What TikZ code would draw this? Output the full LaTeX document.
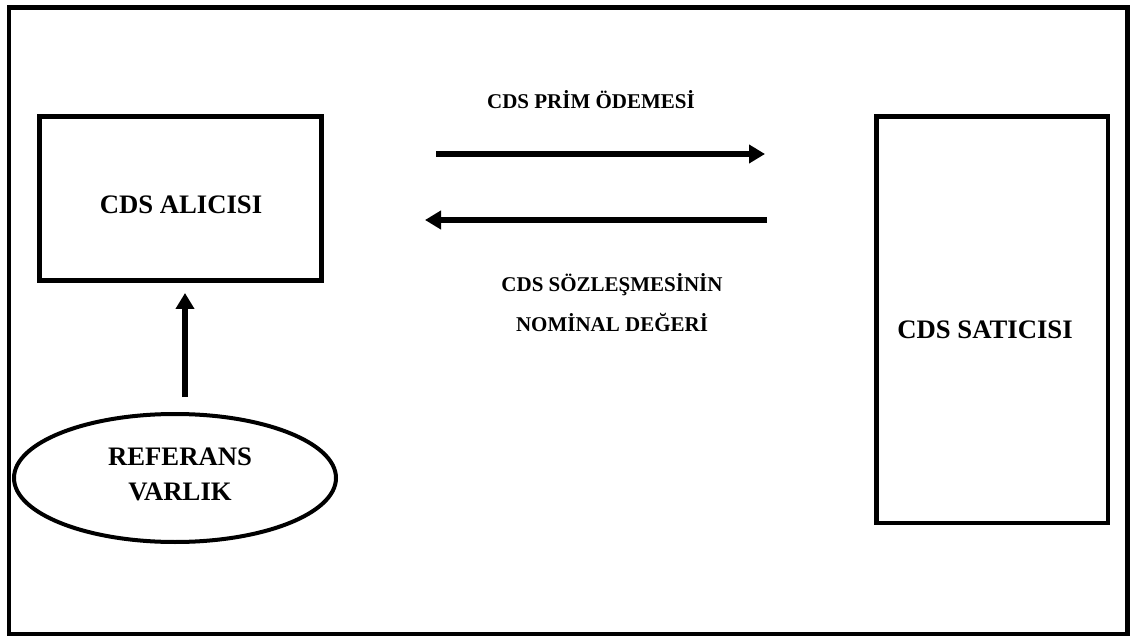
\documentclass[tikz,border=0pt]{standalone}
\usepackage{fontspec}
\setmainfont{Liberation Serif}
\usetikzlibrary{shapes.geometric,arrows.meta}
\begin{document}
\begin{tikzpicture}[x=1pt,y=-1pt,
    box/.style={draw,line width=4.5pt,inner sep=0pt},
    big/.style={font=\bfseries\fontsize{26.7}{35}\selectfont,align=center},
    small/.style={font=\bfseries\fontsize{21}{40}\selectfont,align=center},
    flow/.style={line width=5.5pt,-{Triangle[length=16pt,width=18pt]}}]
  \useasboundingbox (0,0) rectangle (1130,636);
  \draw[line width=4.5pt] (9,7.5) rectangle (1127.5,634); % frame
  % parties
  \node[box,minimum width=282pt,minimum height=164pt] (alici) at (180.5,198.5) {};
  \node[big] (alicitxt) at (181,205) {CDS ALICISI};
  \node[box,minimum width=231.5pt,minimum height=406.5pt] (satici) at (992.25,319.75) {};
  \node[big] (saticitxt) at (985,329.5) {CDS SATICISI};
  \node[draw,ellipse,line width=4pt,inner sep=0pt,minimum width=322pt,minimum height=128pt] (ref) at (175,478) {};
  \node[big] (reftxt) at (180,474) {REFERANS\\VARLIK};
  % flows
  \coordinate (prim0) at (436,154);
  \coordinate (prim1) at (765,154);
  \coordinate (nom0) at (767,220);
  \coordinate (nom1) at (425,220);
  \coordinate (up0) at (185,397);
  \coordinate (up1) at (185,293);
  \draw[flow] (prim0) -- (prim1);
  \draw[flow] (nom0) -- (nom1);
  \draw[flow] (up0) -- (up1);
  \node[small] (primtxt) at (591,100) {CDS PR\.{I}M ÖDEMES\.{I}};
  \node[small] (nomtxt) at (612,303) {CDS SÖZLEŞMES\.{I}N\.{I}N\\NOM\.{I}NAL DEĞER\.{I}};
\end{tikzpicture}
\end{document}
